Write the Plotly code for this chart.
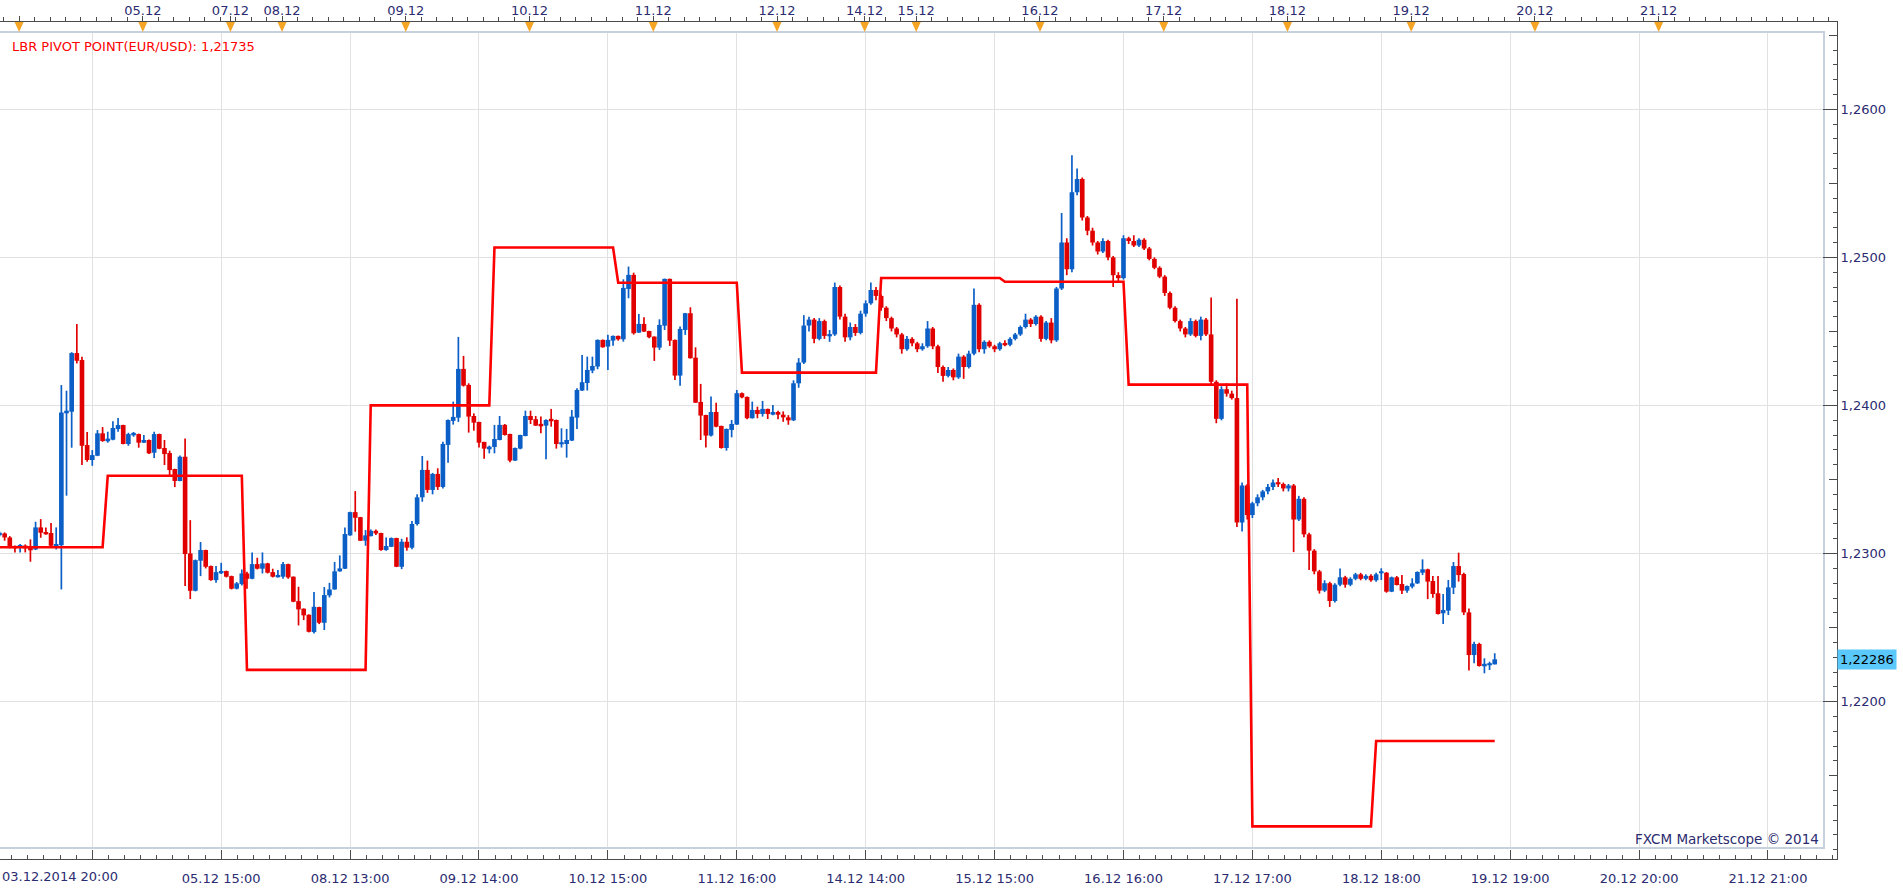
import plotly.graph_objects as go

# ---------------- data (EUR/USD, H1 candles, bar index = trading hour from 03.12.2014 20:00) ----------------
OPEN = [
    1.23128, 1.23136, 1.23109, 1.23051, 1.23046, 1.23045, 1.23040, 1.23028, 1.23177, 1.23143,
    1.23139, 1.23053, 1.23057, 1.23953, 1.23958, 1.24354, 1.24307, 1.23733, 1.23632, 1.23661,
    1.23812, 1.23764, 1.23769, 1.23841, 1.23868, 1.23740, 1.23803, 1.23807, 1.23749, 1.23767,
    1.23681, 1.23807, 1.23713, 1.23679, 1.23571, 1.23490, 1.23654, 1.23001, 1.22749, 1.22952,
    1.23024, 1.22916, 1.22821, 1.22871, 1.22882, 1.22848, 1.22763, 1.22794, 1.22866, 1.22830,
    1.22929, 1.22898, 1.22934, 1.22875, 1.22844, 1.22844, 1.22929, 1.22844, 1.22679, 1.22628,
    1.22587, 1.22470, 1.22639, 1.22533, 1.22718, 1.22758, 1.22880, 1.22898, 1.23123, 1.23280,
    1.23246, 1.23087, 1.23118, 1.23154, 1.23139, 1.23024, 1.23046, 1.23105, 1.22911, 1.23080,
    1.23040, 1.23200, 1.23380, 1.23565, 1.23430, 1.23538, 1.23450, 1.23734, 1.23896, 1.23918,
    1.24247, 1.24139, 1.23929, 1.23889, 1.23754, 1.23709, 1.23720, 1.23767, 1.23869, 1.23808,
    1.23628, 1.23709, 1.23794, 1.23929, 1.23907, 1.23869, 1.23864, 1.23902, 1.23902, 1.23740,
    1.23740, 1.23763, 1.23918, 1.24101, 1.24152, 1.24236, 1.24263, 1.24443, 1.24398, 1.24438,
    1.24470, 1.24447, 1.24787, 1.24882, 1.24492, 1.24551, 1.24503, 1.24465, 1.24391, 1.24539,
    1.24855, 1.24443, 1.24202, 1.24510, 1.24623, 1.24323, 1.24024, 1.23936, 1.23797, 1.23956,
    1.23862, 1.23713, 1.23835, 1.23871, 1.24083, 1.24058, 1.23914, 1.23970, 1.23943, 1.23977,
    1.23938, 1.23956, 1.23938, 1.23920, 1.23900, 1.24150, 1.24290, 1.24540, 1.24580, 1.24450,
    1.24570, 1.24470, 1.24480, 1.24800, 1.24600, 1.24460, 1.24530, 1.24490, 1.24620, 1.24690,
    1.24780, 1.24740, 1.24660, 1.24590, 1.24520, 1.24480, 1.24380, 1.24450, 1.24420, 1.24380,
    1.24400, 1.24520, 1.24400, 1.24260, 1.24200, 1.24240, 1.24190, 1.24330, 1.24260, 1.24350,
    1.24680, 1.24380, 1.24430, 1.24400, 1.24380, 1.24420, 1.24410, 1.24450, 1.24480, 1.24530,
    1.24580, 1.24550, 1.24600, 1.24450, 1.24560, 1.24440, 1.24790, 1.25100, 1.24920, 1.25440,
    1.25530, 1.25270, 1.25180, 1.25100, 1.25040, 1.25110, 1.25000, 1.24880, 1.24860, 1.25130,
    1.25110, 1.25080, 1.25120, 1.25060, 1.24990, 1.24930, 1.24870, 1.24760, 1.24660, 1.24570,
    1.24520, 1.24480, 1.24570, 1.24470, 1.24580, 1.24480, 1.24160, 1.23910, 1.24110, 1.24080,
    1.24050, 1.23210, 1.23460, 1.23260, 1.23340, 1.23380, 1.23420, 1.23450, 1.23480, 1.23470,
    1.23440, 1.23460, 1.23230, 1.23370, 1.23130, 1.23020, 1.22880, 1.22750, 1.22800, 1.22680,
    1.22790, 1.22840, 1.22790, 1.22830, 1.22860, 1.22830, 1.22850, 1.22820, 1.22867, 1.22871,
    1.22743, 1.22840, 1.22795, 1.22750, 1.22777, 1.22799, 1.22871, 1.22894, 1.22815, 1.22732,
    1.22597, 1.22615, 1.22770, 1.22916, 1.22862, 1.22603, 1.22315, 1.22390, 1.22244, 1.22248,
    1.22252,
]
HIGH = [
    1.23150, 1.23143, 1.23118, 1.23055, 1.23064, 1.23062, 1.23096, 1.23215, 1.23233, 1.23177,
    1.23206, 1.23177, 1.24138, 1.24100, 1.24360, 1.24550, 1.24329, 1.23821, 1.23699, 1.23834,
    1.23854, 1.23823, 1.23893, 1.23915, 1.23870, 1.23816, 1.23821, 1.23810, 1.23800, 1.23770,
    1.23823, 1.23810, 1.23767, 1.23695, 1.23573, 1.23663, 1.23778, 1.23226, 1.22960, 1.23078,
    1.23026, 1.22920, 1.22916, 1.22938, 1.22885, 1.22851, 1.22808, 1.22893, 1.22878, 1.23008,
    1.22972, 1.23008, 1.22938, 1.22898, 1.22889, 1.22943, 1.22932, 1.22846, 1.22776, 1.22630,
    1.22590, 1.22740, 1.22641, 1.22774, 1.22803, 1.22943, 1.22988, 1.23177, 1.23282, 1.23422,
    1.23248, 1.23159, 1.23163, 1.23163, 1.23141, 1.23109, 1.23109, 1.23107, 1.23100, 1.23110,
    1.23220, 1.23400, 1.23659, 1.23628, 1.23545, 1.23576, 1.23756, 1.23905, 1.24026, 1.24463,
    1.24335, 1.24150, 1.23947, 1.23891, 1.23756, 1.23729, 1.23869, 1.23929, 1.23875, 1.23810,
    1.23716, 1.23803, 1.23965, 1.23965, 1.23929, 1.23925, 1.23907, 1.23977, 1.23905, 1.23846,
    1.23842, 1.23970, 1.24116, 1.24341, 1.24330, 1.24330, 1.24446, 1.24446, 1.24477, 1.24472,
    1.24472, 1.24852, 1.24938, 1.24897, 1.24618, 1.24596, 1.24505, 1.24467, 1.24582, 1.24857,
    1.24857, 1.24445, 1.24533, 1.24625, 1.24663, 1.24393, 1.24146, 1.23938, 1.24060, 1.24019,
    1.23864, 1.23844, 1.23902, 1.24105, 1.24087, 1.24060, 1.24026, 1.23992, 1.24031, 1.23979,
    1.24004, 1.23965, 1.23960, 1.23935, 1.24170, 1.24320, 1.24610, 1.24600, 1.24590, 1.24590,
    1.24580, 1.24510, 1.24830, 1.24810, 1.24620, 1.24560, 1.24550, 1.24640, 1.24710, 1.24830,
    1.24800, 1.24750, 1.24670, 1.24600, 1.24530, 1.24490, 1.24470, 1.24460, 1.24430, 1.24420,
    1.24570, 1.24530, 1.24410, 1.24270, 1.24260, 1.24250, 1.24350, 1.24340, 1.24370, 1.24790,
    1.24690, 1.24440, 1.24440, 1.24410, 1.24430, 1.24440, 1.24460, 1.24490, 1.24540, 1.24620,
    1.24590, 1.24610, 1.24610, 1.24570, 1.24590, 1.24800, 1.25300, 1.25130, 1.25689, 1.25600,
    1.25540, 1.25280, 1.25200, 1.25110, 1.25130, 1.25120, 1.25010, 1.24900, 1.25150, 1.25140,
    1.25150, 1.25130, 1.25130, 1.25070, 1.25000, 1.24940, 1.24880, 1.24770, 1.24670, 1.24580,
    1.24530, 1.24590, 1.24580, 1.24600, 1.24590, 1.24730, 1.24170, 1.24130, 1.24150, 1.24100,
    1.24720, 1.23480, 1.23470, 1.23350, 1.23400, 1.23430, 1.23470, 1.23500, 1.23510, 1.23480,
    1.23470, 1.23470, 1.23390, 1.23380, 1.23140, 1.23030, 1.22890, 1.22820, 1.22810, 1.22800,
    1.22900, 1.22850, 1.22840, 1.22870, 1.22870, 1.22860, 1.22860, 1.22870, 1.22901, 1.22875,
    1.22845, 1.22849, 1.22855, 1.22785, 1.22833, 1.22880, 1.22961, 1.22898, 1.22849, 1.22849,
    1.22727, 1.22822, 1.22943, 1.23006, 1.22871, 1.22630, 1.22405, 1.22398, 1.22293, 1.22270,
    1.22327,
]
LOW = [
    1.23115, 1.23087, 1.23035, 1.23008, 1.23008, 1.23008, 1.22945, 1.23024, 1.23107, 1.23127,
    1.23046, 1.23028, 1.22758, 1.23391, 1.23715, 1.24284, 1.23598, 1.23620, 1.23593, 1.23658,
    1.23755, 1.23749, 1.23766, 1.23823, 1.23738, 1.23728, 1.23789, 1.23715, 1.23746, 1.23672,
    1.23645, 1.23705, 1.23598, 1.23530, 1.23449, 1.23488, 1.22781, 1.22693, 1.22745, 1.22848,
    1.22900, 1.22817, 1.22803, 1.22862, 1.22839, 1.22758, 1.22758, 1.22785, 1.22763, 1.22826,
    1.22893, 1.22866, 1.22866, 1.22839, 1.22839, 1.22830, 1.22830, 1.22672, 1.22515, 1.22551,
    1.22468, 1.22461, 1.22524, 1.22484, 1.22704, 1.22756, 1.22878, 1.22896, 1.23120, 1.23148,
    1.23085, 1.23053, 1.23116, 1.23125, 1.23019, 1.23019, 1.23044, 1.22909, 1.22895, 1.23020,
    1.23030, 1.23190, 1.23350, 1.23410, 1.23400, 1.23430, 1.23440, 1.23614, 1.23871, 1.23889,
    1.24128, 1.23817, 1.23830, 1.23716, 1.23641, 1.23677, 1.23677, 1.23765, 1.23797, 1.23617,
    1.23625, 1.23704, 1.23792, 1.23875, 1.23862, 1.23812, 1.23637, 1.23857, 1.23709, 1.23716,
    1.23648, 1.23760, 1.23842, 1.24098, 1.24101, 1.24218, 1.24245, 1.24391, 1.24240, 1.24404,
    1.24438, 1.24431, 1.24724, 1.24479, 1.24490, 1.24497, 1.24454, 1.24301, 1.24375, 1.24510,
    1.24402, 1.24173, 1.24134, 1.24477, 1.24317, 1.24017, 1.23767, 1.23716, 1.23790, 1.23853,
    1.23709, 1.23695, 1.23785, 1.23869, 1.24049, 1.23907, 1.23912, 1.23914, 1.23925, 1.23909,
    1.23934, 1.23907, 1.23890, 1.23870, 1.23895, 1.24120, 1.24280, 1.24500, 1.24420, 1.24440,
    1.24450, 1.24430, 1.24470, 1.24580, 1.24430, 1.24440, 1.24470, 1.24480, 1.24600, 1.24680,
    1.24710, 1.24640, 1.24570, 1.24500, 1.24460, 1.24350, 1.24370, 1.24400, 1.24360, 1.24370,
    1.24390, 1.24380, 1.24220, 1.24160, 1.24190, 1.24170, 1.24180, 1.24180, 1.24250, 1.24340,
    1.24360, 1.24350, 1.24390, 1.24360, 1.24370, 1.24400, 1.24400, 1.24440, 1.24470, 1.24520,
    1.24530, 1.24540, 1.24430, 1.24440, 1.24420, 1.24430, 1.24780, 1.24880, 1.24900, 1.25420,
    1.25250, 1.25150, 1.25080, 1.25020, 1.25030, 1.24980, 1.24800, 1.24830, 1.24850, 1.25090,
    1.25070, 1.25070, 1.25050, 1.24980, 1.24920, 1.24860, 1.24740, 1.24650, 1.24560, 1.24500,
    1.24460, 1.24470, 1.24460, 1.24440, 1.24470, 1.24140, 1.23880, 1.23900, 1.24060, 1.24040,
    1.23180, 1.23150, 1.23230, 1.23240, 1.23320, 1.23360, 1.23400, 1.23430, 1.23450, 1.23420,
    1.23420, 1.23010, 1.23220, 1.23110, 1.22890, 1.22860, 1.22730, 1.22740, 1.22640, 1.22670,
    1.22780, 1.22770, 1.22780, 1.22820, 1.22820, 1.22820, 1.22810, 1.22810, 1.22822, 1.22736,
    1.22740, 1.22785, 1.22727, 1.22736, 1.22765, 1.22795, 1.22855, 1.22693, 1.22702, 1.22588,
    1.22525, 1.22585, 1.22727, 1.22811, 1.22585, 1.22210, 1.22259, 1.22237, 1.22192, 1.22214,
    1.22252,
]
CLOSE = [
    1.23140, 1.23109, 1.23040, 1.23040, 1.23051, 1.23042, 1.23028, 1.23177, 1.23141, 1.23134,
    1.23053, 1.23062, 1.23953, 1.23962, 1.24354, 1.24302, 1.23728, 1.23632, 1.23665, 1.23812,
    1.23760, 1.23773, 1.23848, 1.23868, 1.23740, 1.23807, 1.23807, 1.23749, 1.23767, 1.23677,
    1.23807, 1.23708, 1.23672, 1.23564, 1.23490, 1.23654, 1.22997, 1.22749, 1.22956, 1.23024,
    1.22911, 1.22821, 1.22875, 1.22882, 1.22844, 1.22763, 1.22799, 1.22866, 1.22830, 1.22929,
    1.22898, 1.22934, 1.22871, 1.22844, 1.22848, 1.22929, 1.22839, 1.22675, 1.22623, 1.22583,
    1.22472, 1.22641, 1.22533, 1.22720, 1.22758, 1.22880, 1.22900, 1.23132, 1.23280, 1.23242,
    1.23087, 1.23123, 1.23154, 1.23136, 1.23024, 1.23051, 1.23105, 1.22911, 1.23080, 1.23040,
    1.23200, 1.23380, 1.23565, 1.23430, 1.23538, 1.23450, 1.23740, 1.23902, 1.23923, 1.24247,
    1.24134, 1.23925, 1.23884, 1.23749, 1.23709, 1.23722, 1.23774, 1.23869, 1.23801, 1.23628,
    1.23713, 1.23801, 1.23929, 1.23902, 1.23864, 1.23864, 1.23902, 1.23898, 1.23740, 1.23749,
    1.23767, 1.23925, 1.24105, 1.24157, 1.24240, 1.24267, 1.24443, 1.24393, 1.24443, 1.24470,
    1.24447, 1.24794, 1.24882, 1.24488, 1.24551, 1.24499, 1.24461, 1.24391, 1.24544, 1.24855,
    1.24438, 1.24202, 1.24517, 1.24623, 1.24319, 1.24019, 1.23932, 1.23797, 1.23956, 1.23857,
    1.23713, 1.23842, 1.23875, 1.24083, 1.24055, 1.23914, 1.23970, 1.23943, 1.23977, 1.23943,
    1.23956, 1.23938, 1.23920, 1.23900, 1.24150, 1.24290, 1.24540, 1.24580, 1.24450, 1.24570,
    1.24470, 1.24480, 1.24800, 1.24600, 1.24460, 1.24530, 1.24490, 1.24620, 1.24690, 1.24780,
    1.24740, 1.24660, 1.24590, 1.24520, 1.24480, 1.24380, 1.24450, 1.24420, 1.24380, 1.24400,
    1.24520, 1.24400, 1.24260, 1.24200, 1.24240, 1.24190, 1.24330, 1.24260, 1.24350, 1.24680,
    1.24380, 1.24430, 1.24400, 1.24380, 1.24420, 1.24410, 1.24450, 1.24480, 1.24530, 1.24580,
    1.24550, 1.24600, 1.24450, 1.24560, 1.24440, 1.24790, 1.25100, 1.24920, 1.25440, 1.25530,
    1.25270, 1.25180, 1.25100, 1.25040, 1.25110, 1.25000, 1.24880, 1.24860, 1.25130, 1.25110,
    1.25080, 1.25120, 1.25060, 1.24990, 1.24930, 1.24870, 1.24760, 1.24660, 1.24570, 1.24520,
    1.24480, 1.24570, 1.24470, 1.24580, 1.24480, 1.24160, 1.23910, 1.24110, 1.24080, 1.24050,
    1.23210, 1.23460, 1.23260, 1.23340, 1.23380, 1.23420, 1.23450, 1.23480, 1.23470, 1.23440,
    1.23460, 1.23230, 1.23370, 1.23130, 1.23020, 1.22880, 1.22750, 1.22800, 1.22680, 1.22790,
    1.22840, 1.22790, 1.22830, 1.22860, 1.22830, 1.22850, 1.22820, 1.22860, 1.22869, 1.22743,
    1.22840, 1.22788, 1.22750, 1.22781, 1.22799, 1.22876, 1.22894, 1.22811, 1.22727, 1.22592,
    1.22619, 1.22772, 1.22916, 1.22855, 1.22603, 1.22315, 1.22390, 1.22241, 1.22255, 1.22259,
    1.22286,
]

# LBR pivot point: daily level, first bar index where each level applies
PIVOT_START = [0, 21, 48, 72, 96, 120, 144, 171, 195, 219, 243, 267]
PIVOT_LEVEL = [1.23043, 1.23526, 1.22215, 1.24001, 1.25067, 1.24829,
               1.24222, 1.24861, 1.24836, 1.24141, 1.21158, 1.21735]
PIVOT_LABEL = "LBR PIVOT POINT(EUR/USD): 1,21735"
LAST_PRICE = 1.22286

# time axis (trading-hour bar index)
DAY_START = [4, 28, 45, 55, 79, 103, 127, 151, 168, 178, 202, 226, 250, 274, 298, 322]
DAY_LABEL = ["", "05.12", "07.12", "08.12", "09.12", "10.12", "11.12", "12.12",
             "14.12", "15.12", "16.12", "17.12", "18.12", "19.12", "20.12", "21.12"]
GRID_BAR = [18, 43, 68, 93, 118, 143, 168, 193, 218, 243, 268, 293, 318, 343]
GRID_LABEL = ["", "05.12 15:00", "08.12 13:00", "09.12 14:00", "10.12 15:00", "11.12 16:00",
              "14.12 14:00", "15.12 15:00", "16.12 16:00", "17.12 17:00", "18.12 18:00",
              "19.12 19:00", "20.12 20:00", "21.12 21:00"]
FIRST_LABEL = "03.12.2014 20:00"
PRICE_TICKS = [1.22, 1.23, 1.24, 1.25, 1.26]
PRICE_MID_TICKS = [1.215, 1.225, 1.235, 1.245, 1.255, 1.265]
COPYRIGHT = "FXCM Marketscope © 2014"

# ---------------- layout geometry (pixels) ----------------
W, H = 1903, 889
FRAME_R, FRAME_T, FRAME_B = 1837, 22, 859      # rulers / right axis line
PLOT_R, PLOT_T, PLOT_B = 1823, 33.3, 847       # bordered chart area
PX_PER_BAR = 5.156
BAR_AT_LEFT = 0.1
REF_PRICE, REF_PX, PX_PER_UNIT = 1.26, 109.3, 14810.0

def price_at(py):
    return REF_PRICE + (REF_PX - py) / PX_PER_UNIT

def bar_at(px):
    return BAR_AT_LEFT + px / PX_PER_BAR

FH = FRAME_B - FRAME_T
def paper_y(py):
    return (FRAME_B - py) / FH

UP, DOWN = "#0b5fc6", "#e00000"
NAVY = "#2b2b70"
RULER = "#4b4b4b"
FONT = "DejaVu Sans"
MIN_BODY = 0.00012

idx = list(range(len(CLOSE)))

fig = go.Figure()

# wicks
for color, up in ((UP, True), (DOWN, False)):
    wx, wy = [], []
    for i in idx:
        if (CLOSE[i] >= OPEN[i]) == up:
            wx += [i, i, None]
            wy += [LOW[i], HIGH[i], None]
    fig.add_trace(go.Scatter(x=wx, y=wy, mode="lines", line=dict(color=color, width=1.7),
                             hoverinfo="skip", showlegend=False))

# bodies
for color, up in ((UP, True), (DOWN, False)):
    bx, base, hgt = [], [], []
    for i in idx:
        if (CLOSE[i] >= OPEN[i]) == up:
            bx.append(i)
            base.append(min(OPEN[i], CLOSE[i]))
            hgt.append(max(abs(CLOSE[i] - OPEN[i]), MIN_BODY))
    fig.add_trace(go.Bar(x=bx, y=hgt, base=base, width=0.9, marker=dict(color=color, line=dict(width=0)),
                         hoverinfo="skip", showlegend=False))

# pivot line
pivot = []
for i in idx:
    lvl = PIVOT_LEVEL[0]
    for s, v in zip(PIVOT_START, PIVOT_LEVEL):
        if i >= s:
            lvl = v
    pivot.append(lvl)
fig.add_trace(go.Scatter(x=idx, y=pivot, mode="lines", line=dict(color="#ff0000", width=2.6),
                         hoverinfo="skip", showlegend=False))

# invisible traces that carry the frame axes
fig.add_trace(go.Scatter(x=idx, y=CLOSE, xaxis="x2", yaxis="y2", mode="lines", opacity=0,
                         hoverinfo="skip", showlegend=False))
fig.add_trace(go.Scatter(x=idx, y=CLOSE, xaxis="x3", yaxis="y2", mode="lines", opacity=0,
                         hoverinfo="skip", showlegend=False))
fig.add_trace(go.Scatter(x=idx, y=CLOSE, xaxis="x2", yaxis="y3", mode="lines", opacity=0,
                         hoverinfo="skip", showlegend=False))

frame_x = [bar_at(0), bar_at(FRAME_R)]
frame_y = [price_at(FRAME_B), price_at(FRAME_T)]
tickfont = dict(family=FONT, size=13, color=NAVY)

fig.update_layout(
    width=W, height=H, autosize=False,
    margin=dict(l=0, r=W - FRAME_R, t=FRAME_T, b=H - FRAME_B, pad=0),
    paper_bgcolor="white", plot_bgcolor="rgba(0,0,0,0)",
    barmode="overlay", hovermode=False, showlegend=False,
    xaxis=dict(domain=[0, PLOT_R / FRAME_R], range=[bar_at(0), bar_at(PLOT_R)],
               tickmode="array", tickvals=GRID_BAR, showticklabels=False, ticks="",
               showgrid=True, gridcolor="#e1e1e1", gridwidth=1, zeroline=False,
               showline=True, linecolor="#c7d1de", linewidth=2, mirror=True, fixedrange=True),
    yaxis=dict(domain=[paper_y(PLOT_B), paper_y(PLOT_T)], range=[price_at(PLOT_B), price_at(PLOT_T)],
               tickmode="array", tickvals=PRICE_TICKS, showticklabels=False, ticks="",
               showgrid=True, gridcolor="#e1e1e1", gridwidth=1, zeroline=False,
               showline=True, linecolor="#c7d1de", linewidth=2, mirror=True, fixedrange=True),
    xaxis2=dict(domain=[0, 1], range=frame_x, anchor="y2", side="top",
                tickmode="array", tickvals=[d - 0.2 for d in DAY_START], ticktext=DAY_LABEL,
                ticks="outside", ticklen=5, tickcolor=RULER, tickfont=tickfont, ticklabelstandoff=-4,
                minor=dict(ticks="outside", ticklen=4, dtick=3, tick0=DAY_START[0] - 0.2, tickcolor=RULER),
                showgrid=False, zeroline=False, showline=True, linecolor=RULER, linewidth=1,
                fixedrange=True),
    xaxis3=dict(range=frame_x, anchor="y2", overlaying="x2", side="bottom",
                tickmode="array", tickvals=GRID_BAR, ticktext=GRID_LABEL,
                ticks="inside", ticklen=9, tickcolor=RULER, tickfont=tickfont, ticklabelstandoff=7,
                minor=dict(ticks="inside", ticklen=4, dtick=25 / 8, tick0=GRID_BAR[0], tickcolor=RULER),
                showgrid=False, zeroline=False, showline=True, linecolor=RULER, linewidth=1,
                fixedrange=True),
    yaxis2=dict(domain=[0, 1], range=frame_y, anchor="x2", side="right",
                tickmode="array", tickvals=PRICE_TICKS,
                ticktext=[f"{v:.4f}".replace(".", ",") for v in PRICE_TICKS],
                ticks="inside", ticklen=14, tickcolor=RULER, tickfont=tickfont,
                minor=dict(ticks="inside", ticklen=4, dtick=0.001, tick0=1.2, tickcolor=RULER),
                showgrid=False, zeroline=False, showline=True, linecolor=RULER, linewidth=1,
                fixedrange=True),
    yaxis3=dict(range=frame_y, anchor="x2", overlaying="y2", side="right",
                tickmode="array", tickvals=PRICE_MID_TICKS, showticklabels=False,
                ticks="inside", ticklen=8, tickcolor=RULER,
                showgrid=False, zeroline=False, showline=False, fixedrange=True),
)

# day markers (orange triangles under the top ruler)
for d in DAY_START:
    fig.add_shape(type="path", xref="x2", yref="paper", xsizemode="pixel", ysizemode="pixel",
                  xanchor=d - 0.2, yanchor=1, path="M -4.5 0 L 4.5 0 L 0 -10 Z",
                  fillcolor="#f5a424", line=dict(width=0), layer="above")

fig.add_annotation(text=PIVOT_LABEL, xref="paper", yref="paper", x=10 / FRAME_R, y=paper_y(46),
                   xanchor="left", yanchor="middle", showarrow=False,
                   font=dict(family=FONT, size=13, color="#ff0000"))
fig.add_annotation(text=COPYRIGHT, xref="paper", yref="paper", x=1821 / FRAME_R, y=paper_y(839),
                   xanchor="right", yanchor="middle", showarrow=False,
                   font=dict(family=FONT, size=13.5, color=NAVY))
fig.add_annotation(text=FIRST_LABEL, xref="paper", yref="paper", x=0, y=paper_y(876.5),
                   xanchor="left", yanchor="middle", showarrow=False, font=tickfont)
fig.add_annotation(text=f"{LAST_PRICE:.5f}".replace(".", ","), xref="paper", yref="y",
                   x=1, y=LAST_PRICE, xanchor="left", yanchor="middle", showarrow=False,
                   bgcolor="#5ac8fa", borderpad=2,
                   font=dict(family=FONT, size=13, color="#000000"))

fig.write_html("out.html", config={"displayModeBar": False})
